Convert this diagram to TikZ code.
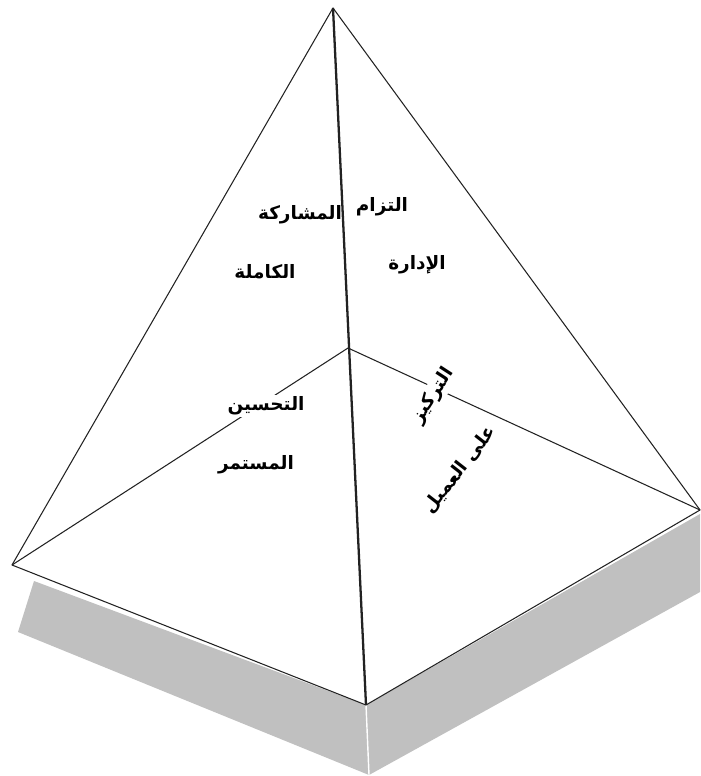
\documentclass[tikz,border=0pt]{standalone}
\usepackage{fontspec}
\newfontfamily\arabicfont[Script=Arabic]{DejaVu Sans}
\TeXXeTstate=1
\definecolor{shadowGray}{HTML}{C0C0C0}
\definecolor{edgeBlack}{HTML}{222222}

\begin{document}
\begin{tikzpicture}[
    x=0.02cm, y=-0.02cm,
    edge/.style={draw=edgeBlack, line width=0.6pt, line join=round},
    spine/.style={draw=edgeBlack, line width=1.3pt},
    word/.style={
        font=\arabicfont\bfseries\fontsize{10.5}{13}\selectfont,
        inner sep=1pt
    },
    gap/.style={word, fill=white}
]
  \useasboundingbox (0,0) rectangle (700,776);

  % Corners
  \coordinate (apex)  at (333,8);
  \coordinate (left)  at (12,565);
  \coordinate (front) at (366,705);
  \coordinate (right) at (700,510);
  \coordinate (mid)   at (348,348);

  % Shadow under the base
  \fill[shadowGray] (34,581) -- (18,632) -- (369,775) -- (700,592)
      -- (700,514) -- (front) -- cycle;
  \draw[white, line width=0.8pt] (front) -- (369,775);

  % Faces
  \fill[white] (apex) -- (left) -- (front) -- (right) -- cycle;

  % Edges
  \draw[edge] (apex) -- (left) -- (front) -- (right) -- cycle;
  \draw[edge] (left) -- (mid) -- (right);
  \draw[spine] (apex) -- (front);

  % Labels
  \node[word] (sharing) at (300,215) {\beginR المشاركة\endR};
  \node[word] (full)    at (265,272) {\beginR الكاملة\endR};
  \node[word] (commit)  at (382,207) {\beginR التزام\endR};
  \node[word] (mgmt)    at (417,265) {\beginR الإدارة\endR};
  \node[gap]  (improve) at (266,406) {\beginR التحسين\endR};
  \node[word] (steady)  at (256,465) {\beginR المستمر\endR};
  \node[gap, rotate=57]  (focus)  at (433,396) {\beginR التركيز\endR};
  \node[word, rotate=52] (client) at (460,470) {\beginR على العميل\endR};

\end{tikzpicture}
\end{document}
